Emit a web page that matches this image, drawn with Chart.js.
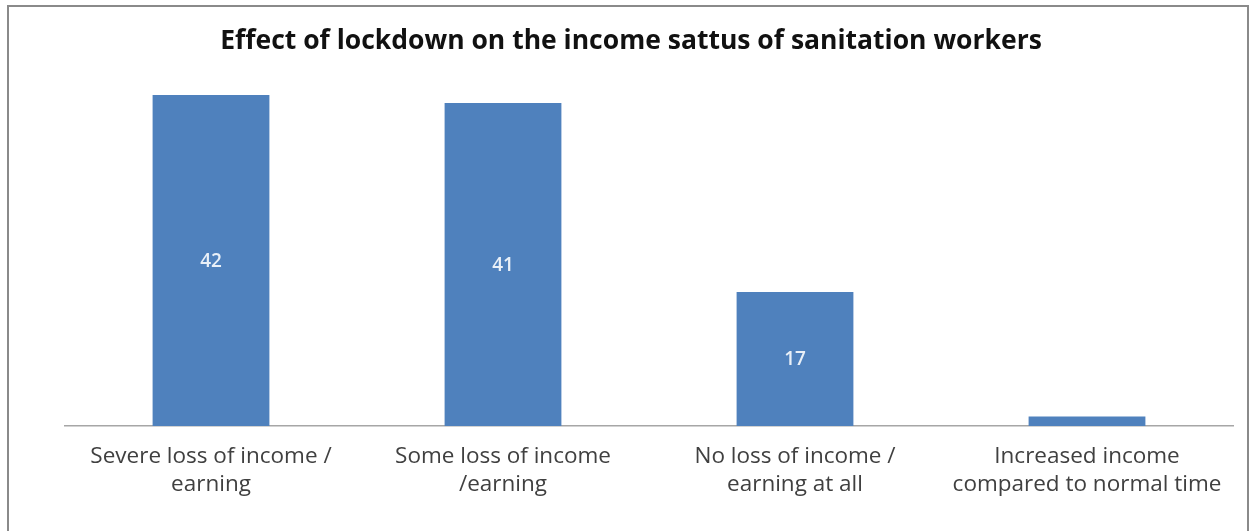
<!DOCTYPE html>
<html>
<head>
<meta charset="utf-8">
<script src="https://cdn.jsdelivr.net/npm/chart.js@4.4.1/dist/chart.umd.min.js"></script>
<style>
  html, body { margin: 0; padding: 0; background: #ffffff; }
  #wrap { position: relative; width: 1250px; height: 531px; }
</style>
</head>
<body>
<div id="wrap"><canvas id="c" width="1250" height="531"></canvas></div>
<script>
const titleText = "Effect of lockdown on the income sattus of sanitation workers";
const categories = [
  ["Severe loss of income /", "earning"],
  ["Some loss of income", "/earning"],
  ["No loss of income /", "earning at all"],
  ["Increased income", "compared to normal time"]
];
const values = [42, 41, 17, 1.2];
const valueLabels = ["42", "41", "17", ""];

const borderPlugin = {
  id: 'frameBorder',
  beforeDraw(chart) {
    const ctx = chart.ctx;
    ctx.save();
    ctx.fillStyle = '#ffffff';
    ctx.fillRect(0, 0, chart.width, chart.height);
    ctx.strokeStyle = '#8a8a8a';
    ctx.lineWidth = 2;
    ctx.beginPath();
    ctx.moveTo(8, 540);
    ctx.lineTo(8, 6);
    ctx.lineTo(1248, 6);
    ctx.lineTo(1248, 540);
    ctx.stroke();
    ctx.restore();
  }
};

const valueLabelPlugin = {
  id: 'valueLabels',
  afterDatasetsDraw(chart) {
    const ctx = chart.ctx;
    const meta = chart.getDatasetMeta(0);
    ctx.save();
    ctx.fillStyle = '#e9f0f8';
    ctx.font = '600 19px "Open Sans", sans-serif';
    ctx.textAlign = 'center';
    ctx.textBaseline = 'middle';
    meta.data.forEach((bar, i) => {
      const t = valueLabels[i];
      if (!t) return;
      const p = bar.getProps(['x', 'y', 'base'], true);
      ctx.fillText(t, p.x, (p.y + p.base) / 2 + 1);
    });
    ctx.restore();
  }
};

new Chart(document.getElementById('c'), {
  type: 'bar',
  data: {
    labels: categories,
    datasets: [{
      data: values,
      backgroundColor: '#4f81bd',
      borderWidth: 0,
      barPercentage: 0.4,
      categoryPercentage: 1.0
    }]
  },
  options: {
    responsive: false,
    animation: false,
    devicePixelRatio: 1,
    layout: { padding: { left: 29, right: 17, top: 0, bottom: 0 } },
    plugins: {
      legend: { display: false },
      tooltip: { enabled: false },
      title: {
        display: true,
        text: titleText,
        color: '#111111',
        font: { family: '"Open Sans", sans-serif', size: 26.5, weight: 'bold', lineHeight: 1.2 },
        padding: { top: 26, bottom: 37.2 }
      }
    },
    scales: {
      x: {
        grid: { display: false, drawTicks: false },
        border: { display: true, color: '#a6a6a6', width: 1.5 },
        ticks: {
          color: '#404040',
          font: { family: '"Open Sans", sans-serif', size: 22.5, lineHeight: 1.27 },
          padding: 16,
          maxRotation: 0,
          autoSkip: false
        },
        afterFit(scale) { scale.height = 105; }
      },
      y: {
        display: true,
        min: 0,
        max: 42,
        grid: { display: false, drawTicks: false },
        border: { display: false },
        ticks: { display: false },
        afterFit(scale) { scale.width = 36; }
      }
    }
  },
  plugins: [borderPlugin, valueLabelPlugin]
});
</script>
</body>
</html>
